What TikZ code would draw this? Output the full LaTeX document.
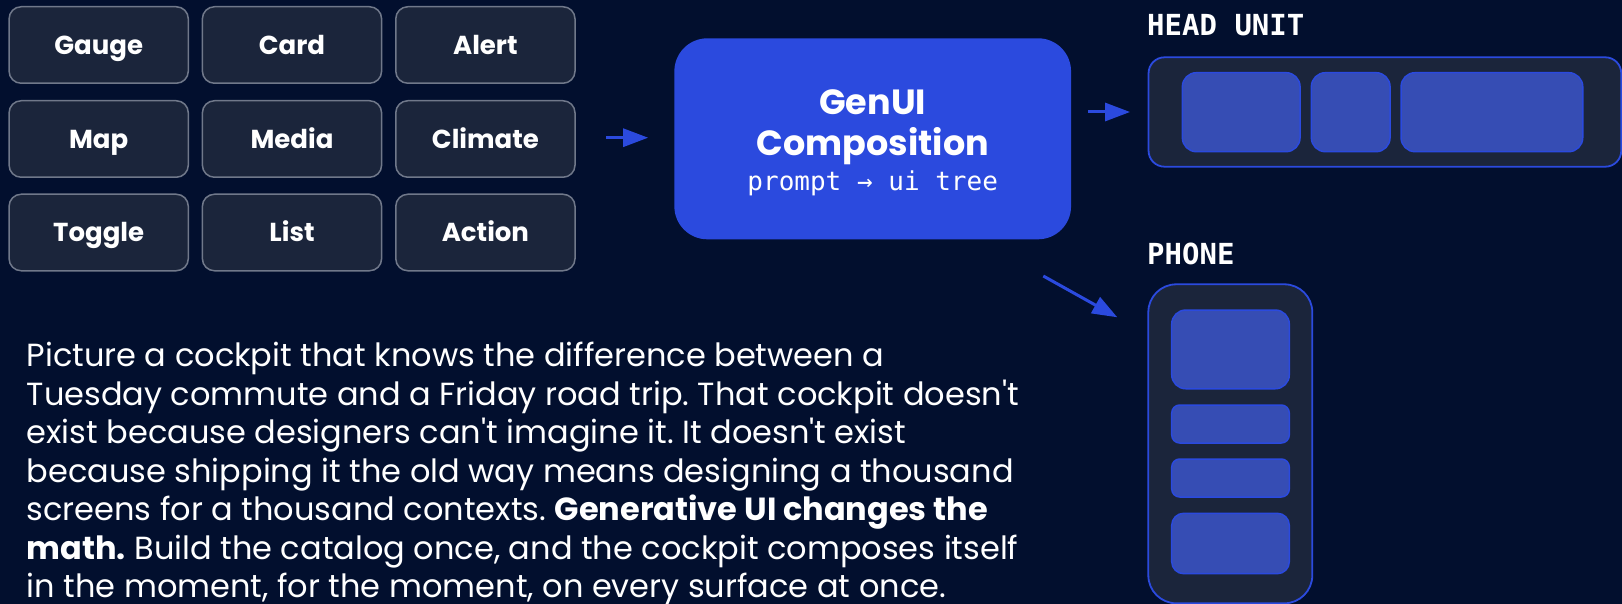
\documentclass[tikz,border=0pt]{standalone}
\usepackage{fontspec}
\setmainfont{Poppins}
\setmonofont{DejaVu Sans Mono}
% body copy keeps straight apostrophes
\newfontfamily\storyfont{Poppins}
\usetikzlibrary{arrows.meta}

\definecolor{canvas}{RGB}{2,15,46}
\definecolor{tilefill}{RGB}{27,37,59}
\definecolor{tileline}{RGB}{112,120,138}
\definecolor{accent}{RGB}{43,74,222}
\definecolor{slotfill}{RGB}{54,77,180}

\begin{document}
\begin{tikzpicture}[x=1pt,y=-1pt,
  tile/.style={draw=tileline, line width=1.5pt, fill=tilefill, rounded corners=12pt,
    minimum width=179.2pt, minimum height=76.5pt, inner sep=0pt,
    text=white, font=\fontsize{26}{30}\selectfont\bfseries,
    text height=18.2pt, text depth=0pt},
  engine/.style={fill=accent, rounded corners=33pt, minimum width=396.7pt,
    minimum height=201pt, inner sep=0pt},
  surface/.style={draw=accent, line width=1.8pt, fill=tilefill, inner sep=0pt},
  slot/.style={draw=accent, line width=1.5pt, fill=slotfill, inner sep=0pt},
  devlabel/.style={anchor=base west, inner sep=0pt, text=white,
    font=\fontsize{29}{32}\selectfont\ttfamily\bfseries},
  flow/.style={draw=accent, line width=3pt, -{Triangle[length=25pt,width=18pt]}}]

% canvas
\fill[canvas] (0,0) rectangle (1622,604);
\useasboundingbox (0,0) rectangle (1622,604);

% component catalog
\node[tile] (gauge)   at (98.7,45)    {Gauge};
\node[tile] (card)    at (292,45)     {Card};
\node[tile] (alert)   at (485.4,45)   {Alert};
\node[tile] (map)     at (98.7,139)   {Map};
\node[tile] (media)   at (292,139)    {Media};
\node[tile] (climate) at (485.4,139)  {Climate};
\node[tile] (toggle)  at (98.7,232.5) {Toggle};
\node[tile] (list)    at (292,232.5)  {List};
\node[tile] (action)  at (485.4,232.5) {Action};

% composition engine
\node[engine] (comp) at (872.7,138.8) {};
\node[anchor=base, inner sep=0pt, text=white, font=\fontsize{35}{40}\selectfont\bfseries]
  (genui) at (872.7,115) {GenUI};
\node[anchor=base, inner sep=0pt, text=white, font=\fontsize{35}{40}\selectfont\bfseries]
  (compo) at (872.7,156) {Composition};
\node[anchor=base, inner sep=0pt, text=white, font=\fontsize{26}{30}\selectfont\ttfamily]
  (prompt) at (872.7,190.7) {prompt → ui tree};

% head unit surface
\node[devlabel] (headlbl) at (1147,36) {HEAD UNIT};
\node[surface, rounded corners=16pt, minimum width=472.7pt, minimum height=109.4pt]
  (head) at (1384.9,112) {};
\node[slot, rounded corners=14pt, minimum width=117.7pt, minimum height=79pt] (h1) at (1241.2,112.2) {};
\node[slot, rounded corners=14pt, minimum width=78.7pt, minimum height=79pt]  (h2) at (1350.7,112.2) {};
\node[slot, rounded corners=14pt, minimum width=181.7pt, minimum height=79pt] (h3) at (1491.9,112.2) {};

% phone surface
\node[devlabel] (phonelbl) at (1147,264) {PHONE};
\node[surface, rounded corners=28pt, minimum width=164pt, minimum height=319pt]
  (phone) at (1230.3,443.8) {};
\node[slot, rounded corners=14pt, minimum width=117.6pt, minimum height=78.7pt] (p1) at (1230.5,349.4) {};
\node[slot, rounded corners=8pt,  minimum width=117.6pt, minimum height=38pt]   (p2) at (1230.5,424) {};
\node[slot, rounded corners=8pt,  minimum width=117.6pt, minimum height=38pt]   (p3) at (1230.5,478) {};
\node[slot, rounded corners=12pt, minimum width=117.6pt, minimum height=60.4pt] (p4) at (1230.5,543.5) {};

% flow arrows
\coordinate (catalogout) at (606,137.7);
\draw[flow, shorten >=26pt] (catalogout) -- (catalogout -| comp.west);
\draw[flow, shorten <=16.7pt, shorten >=17.6pt] (comp.east |- head.west) -- (head.west);
\coordinate (phonefrom) at (1043.3,276);
\coordinate (phoneto) at (1117.3,317.3);
\draw[flow] (phonefrom) -- (phoneto);

% narrative
\node[anchor=base west, inner sep=0pt, text=white] (story) at (26.5,366.5) {\parbox[t]{1100pt}{\raggedright
  \storyfont\fontsize{32}{38.5}\selectfont\frenchspacing
  Picture a cockpit that knows the difference between a\\
  Tuesday commute and a Friday road trip. That cockpit doesn't\\
  exist because designers can't imagine it. It doesn't exist\\
  because shipping it the old way means designing a thousand\\
  screens for a thousand contexts. \textbf{Generative UI changes the}\\
  \textbf{math.} Build the catalog once, and the cockpit composes itself\\
  in the moment, for the moment, on every surface at once.}};

\end{tikzpicture}
\end{document}
